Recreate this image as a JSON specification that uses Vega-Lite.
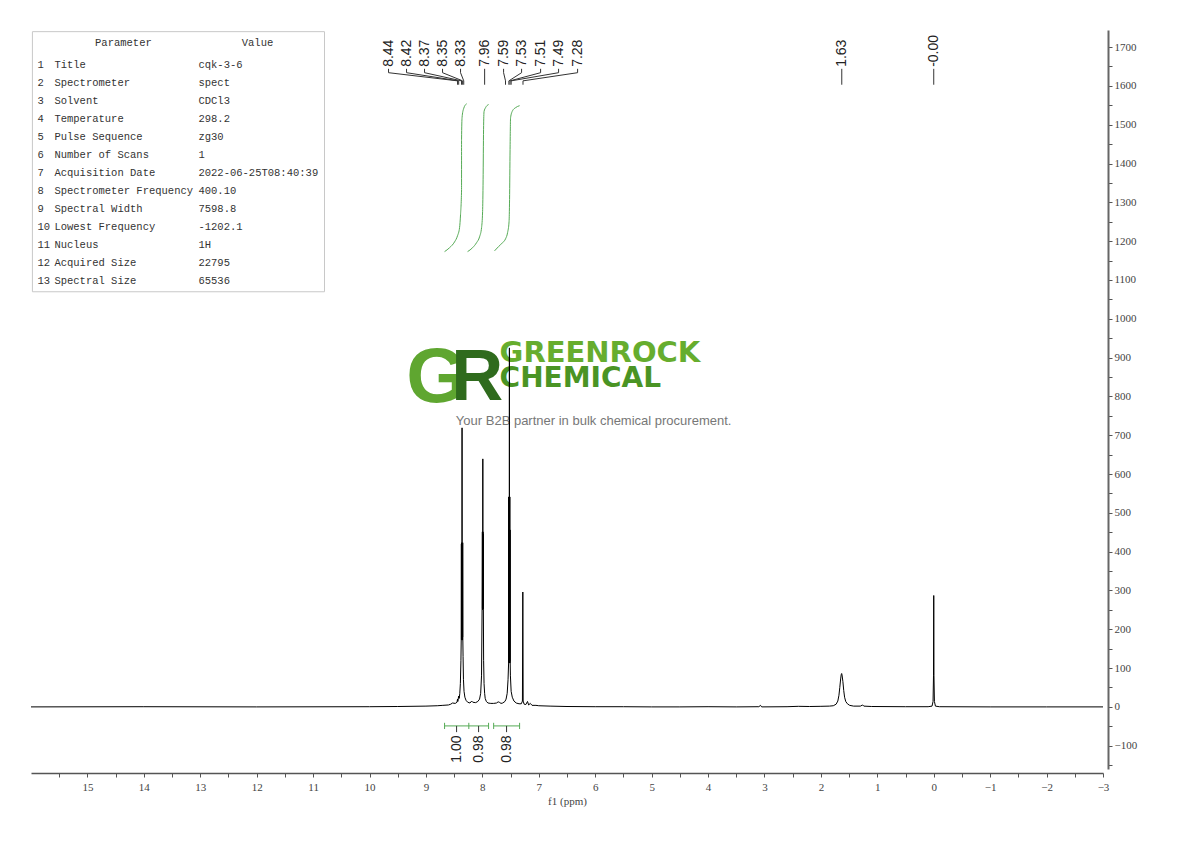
{
  "$schema": "https://vega.github.io/schema/vega-lite/v6.json",
  "width": 1072,
  "height": 739,
  "autosize": {"type": "none"},
  "padding": {"left": 31, "top": 30, "right": 87, "bottom": 72},
  "background": "white",
  "config": {"view": {"stroke": null}, "axis": {"grid": false}},
  "datasets": {
    "spectrum": [
      {"ppm": 16.0, "i": 0}, {"ppm": 14.0, "i": 0.5}, {"ppm": 12.0, "i": 0}, {"ppm": 10.0, "i": 0.5},
      {"ppm": 9.5, "i": 1}, {"ppm": 9.0, "i": 2}, {"ppm": 8.8, "i": 3}, {"ppm": 8.7, "i": 4},
      {"ppm": 8.6, "i": 5}, {"ppm": 8.56, "i": 7}, {"ppm": 8.53, "i": 10}, {"ppm": 8.48, "i": 9},
      {"ppm": 8.45, "i": 12}, {"ppm": 8.44, "i": 20}, {"ppm": 8.435, "i": 14}, {"ppm": 8.42, "i": 28},
      {"ppm": 8.41, "i": 22}, {"ppm": 8.40, "i": 35}, {"ppm": 8.39, "i": 60}, {"ppm": 8.38, "i": 120},
      {"ppm": 8.375, "i": 172}, {"ppm": 8.372, "i": 420}, {"ppm": 8.370, "i": 175}, {"ppm": 8.368, "i": 423},
      {"ppm": 8.366, "i": 172}, {"ppm": 8.364, "i": 410}, {"ppm": 8.362, "i": 180}, {"ppm": 8.360, "i": 719},
      {"ppm": 8.358, "i": 175}, {"ppm": 8.356, "i": 415}, {"ppm": 8.354, "i": 172}, {"ppm": 8.352, "i": 400},
      {"ppm": 8.350, "i": 180}, {"ppm": 8.348, "i": 423}, {"ppm": 8.346, "i": 172}, {"ppm": 8.342, "i": 130},
      {"ppm": 8.335, "i": 70}, {"ppm": 8.325, "i": 40}, {"ppm": 8.31, "i": 25}, {"ppm": 8.29, "i": 17},
      {"ppm": 8.26, "i": 12}, {"ppm": 8.22, "i": 10}, {"ppm": 8.19, "i": 15}, {"ppm": 8.17, "i": 12},
      {"ppm": 8.12, "i": 11}, {"ppm": 8.08, "i": 14}, {"ppm": 8.05, "i": 20}, {"ppm": 8.03, "i": 35},
      {"ppm": 8.015, "i": 80}, {"ppm": 8.005, "i": 250}, {"ppm": 8.000, "i": 451}, {"ppm": 7.998, "i": 255},
      {"ppm": 7.996, "i": 448}, {"ppm": 7.994, "i": 250}, {"ppm": 7.992, "i": 639}, {"ppm": 7.990, "i": 260},
      {"ppm": 7.988, "i": 451}, {"ppm": 7.986, "i": 252}, {"ppm": 7.984, "i": 445}, {"ppm": 7.982, "i": 250},
      {"ppm": 7.978, "i": 120}, {"ppm": 7.97, "i": 60}, {"ppm": 7.96, "i": 35}, {"ppm": 7.95, "i": 22},
      {"ppm": 7.93, "i": 14}, {"ppm": 7.90, "i": 10}, {"ppm": 7.85, "i": 9}, {"ppm": 7.80, "i": 9},
      {"ppm": 7.75, "i": 10}, {"ppm": 7.72, "i": 13}, {"ppm": 7.70, "i": 12}, {"ppm": 7.67, "i": 9},
      {"ppm": 7.64, "i": 10}, {"ppm": 7.60, "i": 14}, {"ppm": 7.58, "i": 20}, {"ppm": 7.56, "i": 35},
      {"ppm": 7.545, "i": 70}, {"ppm": 7.535, "i": 113}, {"ppm": 7.533, "i": 541}, {"ppm": 7.531, "i": 115},
      {"ppm": 7.529, "i": 456}, {"ppm": 7.527, "i": 113}, {"ppm": 7.525, "i": 541}, {"ppm": 7.523, "i": 120},
      {"ppm": 7.521, "i": 925}, {"ppm": 7.519, "i": 113}, {"ppm": 7.517, "i": 456}, {"ppm": 7.515, "i": 118},
      {"ppm": 7.513, "i": 541}, {"ppm": 7.511, "i": 113}, {"ppm": 7.509, "i": 456}, {"ppm": 7.507, "i": 115},
      {"ppm": 7.503, "i": 80}, {"ppm": 7.49, "i": 40}, {"ppm": 7.47, "i": 25}, {"ppm": 7.44, "i": 15},
      {"ppm": 7.40, "i": 10}, {"ppm": 7.35, "i": 8}, {"ppm": 7.31, "i": 8}, {"ppm": 7.29, "i": 15},
      {"ppm": 7.283, "i": 296}, {"ppm": 7.277, "i": 15}, {"ppm": 7.26, "i": 7}, {"ppm": 7.23, "i": 6},
      {"ppm": 7.20, "i": 14}, {"ppm": 7.18, "i": 5}, {"ppm": 7.15, "i": 9}, {"ppm": 7.12, "i": 4},
      {"ppm": 7.05, "i": 4}, {"ppm": 7.0, "i": 3}, {"ppm": 6.8, "i": 2}, {"ppm": 6.5, "i": 1},
      {"ppm": 6.0, "i": 0.5}, {"ppm": 5.5, "i": 0.5}, {"ppm": 5.0, "i": 0}, {"ppm": 4.5, "i": 0},
      {"ppm": 4.0, "i": 0.5}, {"ppm": 3.5, "i": 0}, {"ppm": 3.1, "i": 0.5}, {"ppm": 3.07, "i": 4},
      {"ppm": 3.05, "i": 0}, {"ppm": 2.6, "i": 0.5}, {"ppm": 2.4, "i": 1.5}, {"ppm": 2.2, "i": 1},
      {"ppm": 2.0, "i": 1.5}, {"ppm": 1.85, "i": 2}, {"ppm": 1.78, "i": 3}, {"ppm": 1.73, "i": 7},
      {"ppm": 1.70, "i": 15}, {"ppm": 1.68, "i": 30}, {"ppm": 1.665, "i": 50}, {"ppm": 1.65, "i": 72},
      {"ppm": 1.64, "i": 83}, {"ppm": 1.632, "i": 86}, {"ppm": 1.625, "i": 82}, {"ppm": 1.61, "i": 65},
      {"ppm": 1.595, "i": 42}, {"ppm": 1.58, "i": 25}, {"ppm": 1.56, "i": 14}, {"ppm": 1.53, "i": 8},
      {"ppm": 1.49, "i": 4}, {"ppm": 1.42, "i": 2}, {"ppm": 1.30, "i": 2}, {"ppm": 1.26, "i": 5},
      {"ppm": 1.24, "i": 2}, {"ppm": 1.1, "i": 1}, {"ppm": 0.5, "i": 0.5}, {"ppm": 0.1, "i": 0.5},
      {"ppm": 0.03, "i": 2}, {"ppm": 0.012, "i": 14}, {"ppm": 0.004, "i": 80}, {"ppm": 0.0, "i": 287},
      {"ppm": -0.004, "i": 80}, {"ppm": -0.012, "i": 14}, {"ppm": -0.03, "i": 2}, {"ppm": -0.1, "i": 0.5},
      {"ppm": -1.0, "i": 0}, {"ppm": -2.0, "i": 0}, {"ppm": -3.0, "i": 0}
    ],
    "integrals": [
      {"k": 1, "o": 0, "ppm": 8.670, "i": 1173}, {"k": 1, "o": 1, "ppm": 8.582, "i": 1183},
      {"k": 1, "o": 2, "ppm": 8.493, "i": 1198}, {"k": 1, "o": 3, "ppm": 8.440, "i": 1214},
      {"k": 1, "o": 4, "ppm": 8.404, "i": 1235}, {"k": 1, "o": 5, "ppm": 8.387, "i": 1268},
      {"k": 1, "o": 6, "ppm": 8.369, "i": 1332}, {"k": 1, "o": 7, "ppm": 8.369, "i": 1461},
      {"k": 1, "o": 8, "ppm": 8.360, "i": 1518}, {"k": 1, "o": 9, "ppm": 8.333, "i": 1541},
      {"k": 1, "o": 10, "ppm": 8.280, "i": 1554},
      {"k": 2, "o": 0, "ppm": 8.262, "i": 1173}, {"k": 2, "o": 1, "ppm": 8.174, "i": 1183},
      {"k": 2, "o": 2, "ppm": 8.103, "i": 1196}, {"k": 2, "o": 3, "ppm": 8.050, "i": 1211},
      {"k": 2, "o": 4, "ppm": 8.014, "i": 1235}, {"k": 2, "o": 5, "ppm": 7.996, "i": 1276},
      {"k": 2, "o": 6, "ppm": 7.987, "i": 1358}, {"k": 2, "o": 7, "ppm": 7.979, "i": 1487},
      {"k": 2, "o": 8, "ppm": 7.970, "i": 1534}, {"k": 2, "o": 9, "ppm": 7.943, "i": 1544},
      {"k": 2, "o": 10, "ppm": 7.890, "i": 1552},
      {"k": 3, "o": 0, "ppm": 7.784, "i": 1175}, {"k": 3, "o": 1, "ppm": 7.713, "i": 1186},
      {"k": 3, "o": 2, "ppm": 7.642, "i": 1196}, {"k": 3, "o": 3, "ppm": 7.589, "i": 1206},
      {"k": 3, "o": 4, "ppm": 7.553, "i": 1222}, {"k": 3, "o": 5, "ppm": 7.527, "i": 1250},
      {"k": 3, "o": 6, "ppm": 7.518, "i": 1307}, {"k": 3, "o": 7, "ppm": 7.509, "i": 1436},
      {"k": 3, "o": 8, "ppm": 7.500, "i": 1518}, {"k": 3, "o": 9, "ppm": 7.465, "i": 1536},
      {"k": 3, "o": 10, "ppm": 7.411, "i": 1544}, {"k": 3, "o": 11, "ppm": 7.340, "i": 1549}
    ],
    "brackets": [
      {"ppm": 8.67, "b": 8.24}, {"ppm": 8.24, "b": 7.89}, {"ppm": 7.80, "b": 7.34}
    ],
    "bracketEnds": [
      {"ppm": 8.67}, {"ppm": 8.24}, {"ppm": 7.89}, {"ppm": 7.80}, {"ppm": 7.34}
    ],
    "integralLabels": [
      {"t": "1.00", "ppm": 8.457}, {"t": "0.98", "ppm": 8.067}, {"t": "0.98", "ppm": 7.571}
    ],
    "peakLabels": [
      {"t": "8.44", "ppm": 9.663}, {"t": "8.42", "ppm": 9.344}, {"t": "8.37", "ppm": 9.025},
      {"t": "8.35", "ppm": 8.706}, {"t": "8.33", "ppm": 8.387}, {"t": "7.96", "ppm": 7.96},
      {"t": "7.59", "ppm": 7.624}, {"t": "7.53", "ppm": 7.305}, {"t": "7.51", "ppm": 6.968},
      {"t": "7.49", "ppm": 6.649}, {"t": "7.28", "ppm": 6.312}, {"t": "1.63", "ppm": 1.63},
      {"t": "-0.00", "ppm": 0.0}
    ],
    "connectors": [
      {"id": "8.44", "o": 0, "ppm": 9.663, "i": 1644}, {"id": "8.44", "o": 1, "ppm": 9.663, "i": 1634}, {"id": "8.44", "o": 2, "ppm": 8.44, "i": 1613}, {"id": "8.44", "o": 3, "ppm": 8.44, "i": 1603},
      {"id": "8.42", "o": 0, "ppm": 9.344, "i": 1644}, {"id": "8.42", "o": 1, "ppm": 9.344, "i": 1634}, {"id": "8.42", "o": 2, "ppm": 8.42, "i": 1613}, {"id": "8.42", "o": 3, "ppm": 8.42, "i": 1603},
      {"id": "8.37", "o": 0, "ppm": 9.025, "i": 1644}, {"id": "8.37", "o": 1, "ppm": 9.025, "i": 1634}, {"id": "8.37", "o": 2, "ppm": 8.37, "i": 1613}, {"id": "8.37", "o": 3, "ppm": 8.37, "i": 1603},
      {"id": "8.35", "o": 0, "ppm": 8.706, "i": 1644}, {"id": "8.35", "o": 1, "ppm": 8.706, "i": 1634}, {"id": "8.35", "o": 2, "ppm": 8.35, "i": 1613}, {"id": "8.35", "o": 3, "ppm": 8.35, "i": 1603},
      {"id": "8.33", "o": 0, "ppm": 8.387, "i": 1644}, {"id": "8.33", "o": 1, "ppm": 8.387, "i": 1634}, {"id": "8.33", "o": 2, "ppm": 8.33, "i": 1613}, {"id": "8.33", "o": 3, "ppm": 8.33, "i": 1603},
      {"id": "7.96", "o": 0, "ppm": 7.96, "i": 1644}, {"id": "7.96", "o": 1, "ppm": 7.96, "i": 1603},
      {"id": "7.59", "o": 0, "ppm": 7.624, "i": 1644}, {"id": "7.59", "o": 1, "ppm": 7.624, "i": 1634}, {"id": "7.59", "o": 2, "ppm": 7.59, "i": 1613}, {"id": "7.59", "o": 3, "ppm": 7.59, "i": 1603},
      {"id": "7.53", "o": 0, "ppm": 7.305, "i": 1644}, {"id": "7.53", "o": 1, "ppm": 7.305, "i": 1634}, {"id": "7.53", "o": 2, "ppm": 7.53, "i": 1613}, {"id": "7.53", "o": 3, "ppm": 7.53, "i": 1603},
      {"id": "7.51", "o": 0, "ppm": 6.968, "i": 1644}, {"id": "7.51", "o": 1, "ppm": 6.968, "i": 1634}, {"id": "7.51", "o": 2, "ppm": 7.51, "i": 1613}, {"id": "7.51", "o": 3, "ppm": 7.51, "i": 1603},
      {"id": "7.49", "o": 0, "ppm": 6.649, "i": 1644}, {"id": "7.49", "o": 1, "ppm": 6.649, "i": 1634}, {"id": "7.49", "o": 2, "ppm": 7.49, "i": 1613}, {"id": "7.49", "o": 3, "ppm": 7.49, "i": 1603},
      {"id": "7.28", "o": 0, "ppm": 6.312, "i": 1644}, {"id": "7.28", "o": 1, "ppm": 6.312, "i": 1634}, {"id": "7.28", "o": 2, "ppm": 7.28, "i": 1613}, {"id": "7.28", "o": 3, "ppm": 7.28, "i": 1603},
      {"id": "1.63", "o": 0, "ppm": 1.63, "i": 1644}, {"id": "1.63", "o": 1, "ppm": 1.63, "i": 1603},
      {"id": "-0.00", "o": 0, "ppm": 0.0, "i": 1644}, {"id": "-0.00", "o": 1, "ppm": 0.0, "i": 1603}
    ],
    "table": [
      {"n": 1, "param": "Title", "value": "cqk-3-6"},
      {"n": 2, "param": "Spectrometer", "value": "spect"},
      {"n": 3, "param": "Solvent", "value": "CDCl3"},
      {"n": 4, "param": "Temperature", "value": "298.2"},
      {"n": 5, "param": "Pulse Sequence", "value": "zg30"},
      {"n": 6, "param": "Number of Scans", "value": "1"},
      {"n": 7, "param": "Acquisition Date", "value": "2022-06-25T08:40:39"},
      {"n": 8, "param": "Spectrometer Frequency", "value": "400.10"},
      {"n": 9, "param": "Spectral Width", "value": "7598.8"},
      {"n": 10, "param": "Lowest Frequency", "value": "-1202.1"},
      {"n": 11, "param": "Nucleus", "value": "1H"},
      {"n": 12, "param": "Acquired Size", "value": "22795"},
      {"n": 13, "param": "Spectral Size", "value": "65536"}
    ]
  },
  "encoding": {
    "x": {
      "type": "quantitative",
      "scale": {"domain": [-3, 16], "reverse": true, "nice": false, "zero": false},
      "axis": {
        "title": "f1 (ppm)",
        "values": [15.5, 15, 14.5, 14, 13.5, 13, 12.5, 12, 11.5, 11, 10.5, 10, 9.5, 9, 8.5, 8, 7.5, 7, 6.5, 6, 5.5, 5, 4.5, 4, 3.5, 3, 2.5, 2, 1.5, 1, 0.5, 0, -0.5, -1, -1.5, -2, -2.5, -3],
        "format": "~g",
        "labelExpr": "datum.value % 1 === 0 ? datum.label : ''",
        "tickSize": 4,
        "offset": 4,
        "domainColor": "#555555", "domainWidth": 1.5,
        "tickColor": "#555555", "tickWidth": 1,
        "labelFont": "Liberation Serif", "labelFontSize": 11, "labelColor": "#444444", "labelPadding": 4,
        "labelFlush": false, "labelOverlap": false,
        "titleFont": "Liberation Serif", "titleFontSize": 11, "titleFontWeight": "normal", "titleColor": "#444444", "titlePadding": 3
      }
    },
    "y": {
      "type": "quantitative",
      "scale": {"domain": [-160, 1744], "nice": false, "zero": false},
      "axis": {
        "orient": "right",
        "title": null,
        "values": [-150, -100, -50, 0, 50, 100, 150, 200, 250, 300, 350, 400, 450, 500, 550, 600, 650, 700, 750, 800, 850, 900, 950, 1000, 1050, 1100, 1150, 1200, 1250, 1300, 1350, 1400, 1450, 1500, 1550, 1600, 1650, 1700],
        "format": "d",
        "labelExpr": "datum.value % 100 === 0 ? datum.label : ''",
        "tickSize": 4,
        "offset": 5,
        "domainColor": "#666666", "domainWidth": 2,
        "tickColor": "#555555", "tickWidth": 1,
        "labelFont": "Liberation Serif", "labelFontSize": 11, "labelColor": "#444444", "labelPadding": 2,
        "labelFlush": false, "labelOverlap": false
      }
    }
  },
  "layer": [
    {
      "data": {"values": [{}]},
      "mark": {"type": "rect", "fill": "white", "stroke": "#c8c8c8", "strokeWidth": 1},
      "encoding": {
        "x": {"datum": 15.975, "type": "quantitative"},
        "x2": {"datum": 10.798},
        "y": {"datum": 1739.7, "type": "quantitative"},
        "y2": {"datum": 1069.6}
      }
    },
    {
      "data": {"values": [{}]},
      "mark": {"type": "text", "text": "Parameter", "font": "Liberation Mono", "fontSize": 10.5, "color": "#333333", "align": "center", "baseline": "middle"},
      "encoding": {
        "x": {"datum": 14.362, "type": "quantitative"},
        "y": {"datum": 1711, "type": "quantitative"}
      }
    },
    {
      "data": {"values": [{}]},
      "mark": {"type": "text", "text": "Value", "font": "Liberation Mono", "fontSize": 10.5, "color": "#333333", "align": "center", "baseline": "middle"},
      "encoding": {
        "x": {"datum": 11.986, "type": "quantitative"},
        "y": {"datum": 1711, "type": "quantitative"}
      }
    },
    {
      "data": {"name": "table"},
      "mark": {"type": "text", "font": "Liberation Mono", "fontSize": 10.5, "color": "#333333", "align": "left", "baseline": "middle"},
      "encoding": {
        "x": {"datum": 15.887, "type": "quantitative"},
        "y": {"datum": 1701, "type": "quantitative"},
        "yOffset": {"field": "n", "type": "quantitative", "scale": {"domain": [0, 13], "range": [0, 234.5]}},
        "text": {"field": "n"}
      }
    },
    {
      "data": {"name": "table"},
      "mark": {"type": "text", "font": "Liberation Mono", "fontSize": 10.5, "color": "#333333", "align": "left", "baseline": "middle"},
      "encoding": {
        "x": {"datum": 15.585, "type": "quantitative"},
        "y": {"datum": 1701, "type": "quantitative"},
        "yOffset": {"field": "n", "type": "quantitative", "scale": {"domain": [0, 13], "range": [0, 234.5]}},
        "text": {"field": "param"}
      }
    },
    {
      "data": {"name": "table"},
      "mark": {"type": "text", "font": "Liberation Mono", "fontSize": 10.5, "color": "#333333", "align": "left", "baseline": "middle"},
      "encoding": {
        "x": {"datum": 13.032, "type": "quantitative"},
        "y": {"datum": 1701, "type": "quantitative"},
        "yOffset": {"field": "n", "type": "quantitative", "scale": {"domain": [0, 13], "range": [0, 234.5]}},
        "text": {"field": "value"}
      }
    },
    {
      "data": {"values": [{}]},
      "mark": {"type": "text", "text": "G", "font": "Liberation Sans", "fontWeight": "bold", "fontSize": 78, "color": "#5fa630", "align": "center", "baseline": "alphabetic"},
      "encoding": {
        "x": {"datum": 8.81, "type": "quantitative"},
        "y": {"datum": 786, "type": "quantitative"}
      }
    },
    {
      "data": {"values": [{}]},
      "mark": {"type": "text", "text": "R", "font": "Liberation Sans", "fontWeight": "bold", "fontSize": 72, "color": "#2f6b1d", "align": "center", "baseline": "alphabetic"},
      "encoding": {
        "x": {"datum": 8.09, "type": "quantitative"},
        "y": {"datum": 791, "type": "quantitative"}
      }
    },
    {
      "data": {"values": [{}]},
      "mark": {"type": "text", "text": "GREENROCK", "font": "DejaVu Sans", "fontWeight": "bold", "fontSize": 29, "color": "#66ad2e", "align": "left", "baseline": "alphabetic"},
      "encoding": {
        "x": {"datum": 7.695, "type": "quantitative"},
        "y": {"datum": 889, "type": "quantitative"}
      }
    },
    {
      "data": {"values": [{}]},
      "mark": {"type": "text", "text": "CHEMICAL", "font": "DejaVu Sans", "fontWeight": "bold", "fontSize": 28, "color": "#4a9424", "align": "left", "baseline": "alphabetic"},
      "encoding": {
        "x": {"datum": 7.695, "type": "quantitative"},
        "y": {"datum": 825, "type": "quantitative"}
      }
    },
    {
      "data": {"values": [{}]},
      "mark": {"type": "text", "text": "Your B2B partner in bulk chemical procurement.", "font": "Liberation Sans", "fontSize": 13, "color": "#777777", "align": "center", "baseline": "alphabetic"},
      "encoding": {
        "x": {"datum": 6.028, "type": "quantitative"},
        "y": {"datum": 727, "type": "quantitative"}
      }
    },
    {
      "data": {"name": "spectrum"},
      "mark": {"type": "line", "color": "#000000", "strokeWidth": 1, "interpolate": "linear"},
      "encoding": {
        "x": {"field": "ppm", "type": "quantitative"},
        "y": {"field": "i", "type": "quantitative"}
      }
    },
    {
      "data": {"name": "integrals"},
      "mark": {"type": "line", "color": "#55aa55", "strokeWidth": 1, "interpolate": "monotone"},
      "encoding": {
        "x": {"field": "ppm", "type": "quantitative"},
        "y": {"field": "i", "type": "quantitative"},
        "detail": {"field": "k"},
        "order": {"field": "o"}
      }
    },
    {
      "data": {"name": "brackets"},
      "mark": {"type": "rule", "color": "#55aa55", "strokeWidth": 1},
      "encoding": {
        "x": {"field": "ppm", "type": "quantitative"},
        "x2": {"field": "b"},
        "y": {"datum": -49, "type": "quantitative"}
      }
    },
    {
      "data": {"name": "bracketEnds"},
      "mark": {"type": "rule", "color": "#55aa55", "strokeWidth": 1},
      "encoding": {
        "x": {"field": "ppm", "type": "quantitative"},
        "y": {"datum": -41, "type": "quantitative"},
        "y2": {"datum": -57}
      }
    },
    {
      "data": {"name": "integralLabels"},
      "mark": {"type": "rule", "color": "#333333", "strokeWidth": 1},
      "encoding": {
        "x": {"field": "ppm", "type": "quantitative"},
        "y": {"datum": -49, "type": "quantitative"},
        "y2": {"datum": -65}
      }
    },
    {
      "data": {"name": "integralLabels"},
      "mark": {"type": "text", "font": "Liberation Sans", "fontSize": 14, "color": "#222222", "angle": 270, "align": "left", "baseline": "middle"},
      "encoding": {
        "x": {"field": "ppm", "type": "quantitative"},
        "y": {"datum": -144, "type": "quantitative"},
        "text": {"field": "t"}
      }
    },
    {
      "data": {"name": "connectors"},
      "mark": {"type": "line", "color": "#333333", "strokeWidth": 1},
      "encoding": {
        "x": {"field": "ppm", "type": "quantitative"},
        "y": {"field": "i", "type": "quantitative"},
        "detail": {"field": "id"},
        "order": {"field": "o"}
      }
    },
    {
      "data": {"name": "peakLabels"},
      "mark": {"type": "text", "font": "Liberation Sans", "fontSize": 14, "color": "#222222", "angle": 270, "align": "left", "baseline": "middle"},
      "encoding": {
        "x": {"field": "ppm", "type": "quantitative"},
        "y": {"datum": 1649, "type": "quantitative"},
        "text": {"field": "t"}
      }
    }
  ]
}
